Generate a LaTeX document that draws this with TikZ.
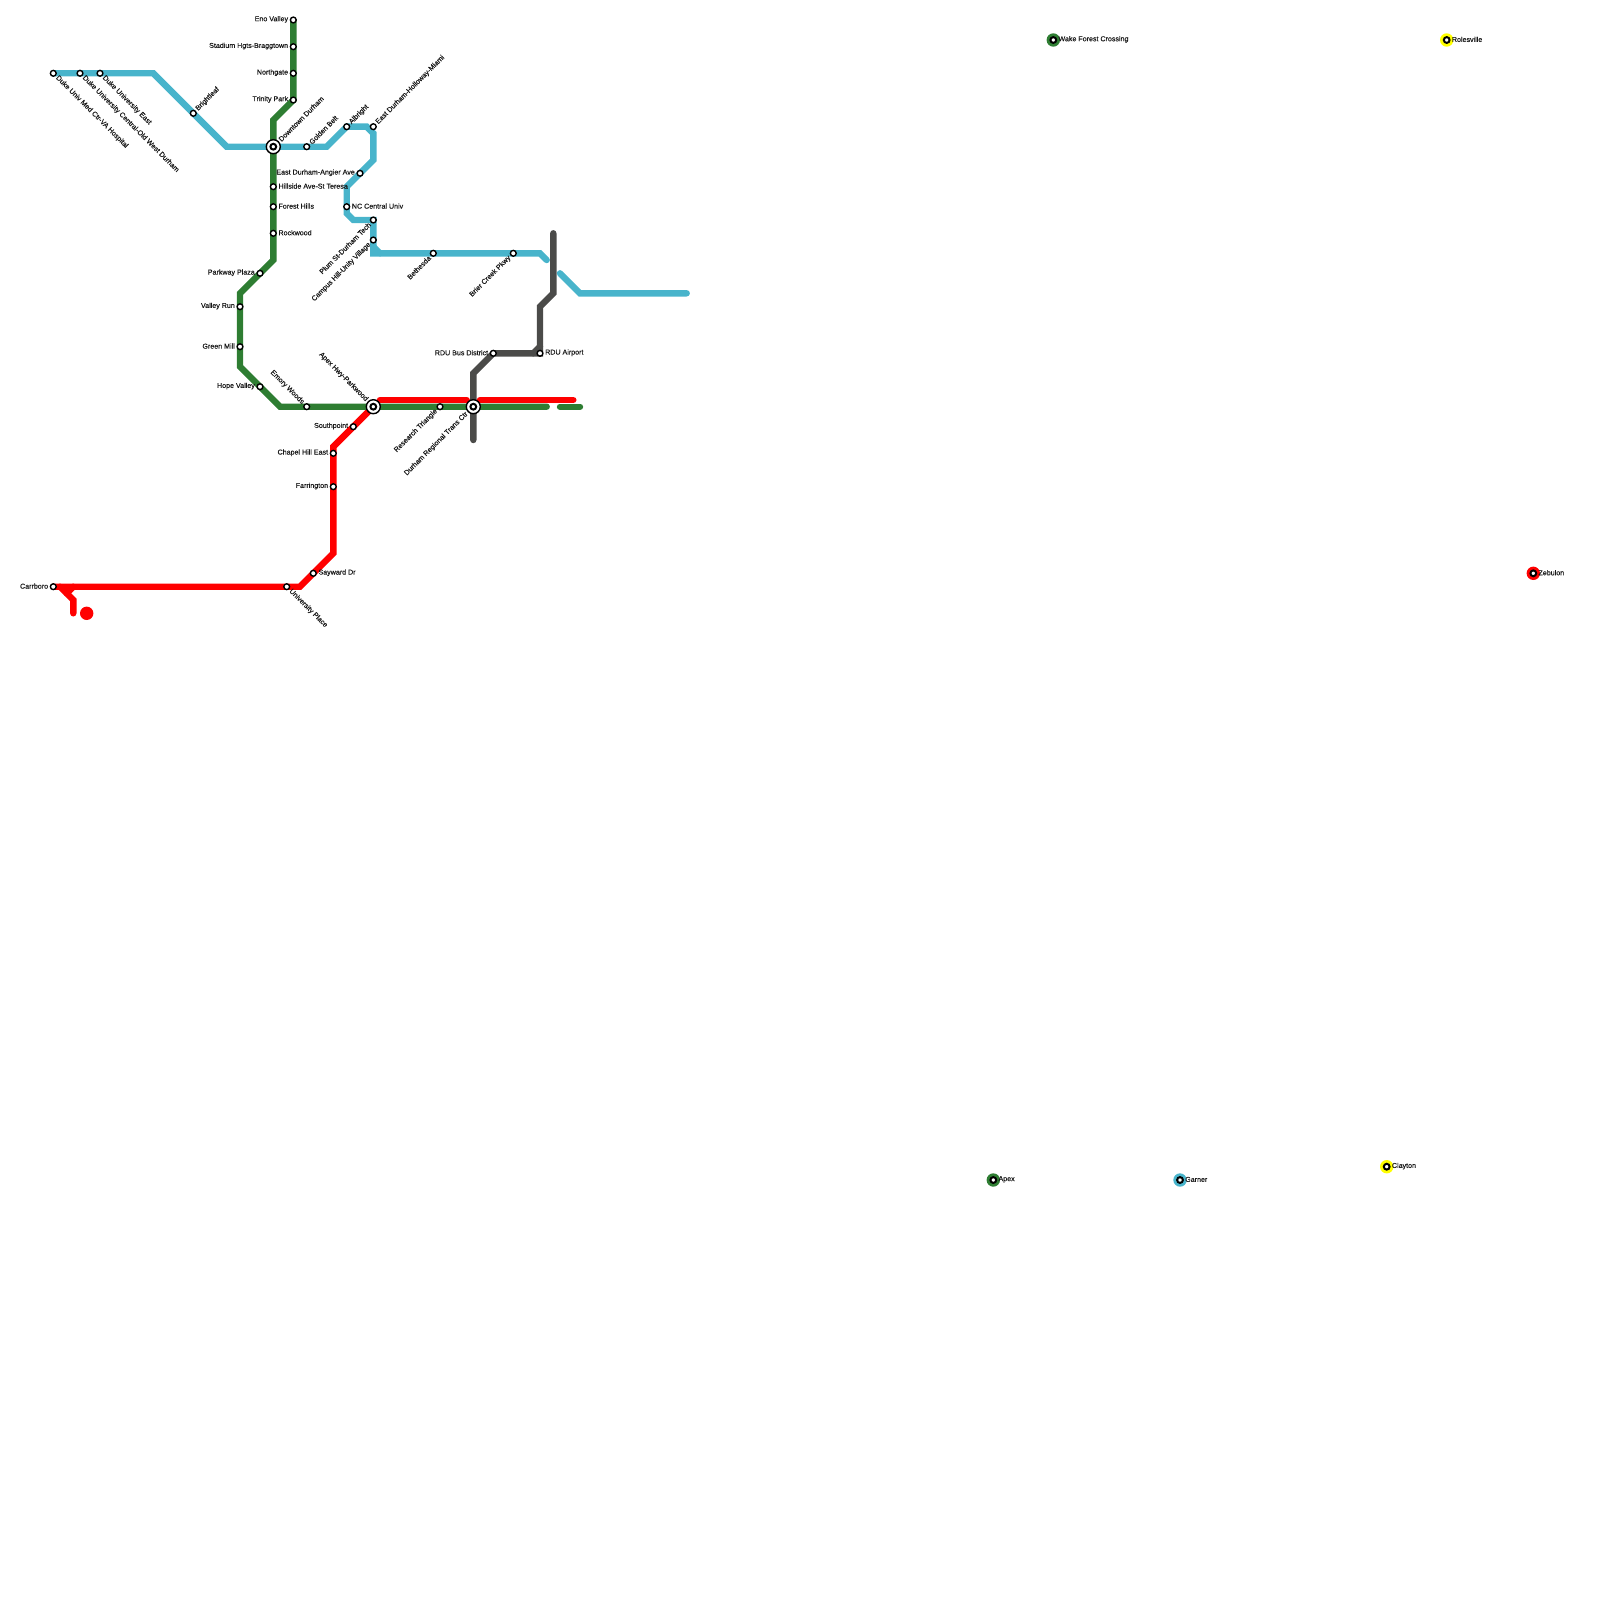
\documentclass[tikz,border=0pt]{standalone}
\usepackage{fontspec}
\newfontfamily\lblfont[FakeBold=0.35]{Liberation Sans}
\definecolor{wood}{HTML}{2E7D32}
\definecolor{creek}{HTML}{48B4CB}
\definecolor{signal}{HTML}{FF0000}
\definecolor{slate}{HTML}{4B4B49}
\definecolor{sun}{HTML}{FFFF00}
\tikzset{stn/.style={circle,draw=black,fill=white,line width=1.4pt,minimum size=5.8pt,inner sep=0pt},
ring/.style={circle,draw=black,fill=white,line width=1.4pt,minimum size=14pt,inner sep=0pt},
lone/.style={circle,minimum size=13.4pt,inner sep=0pt},
core/.style={circle,draw=black,fill=white,line width=2pt,minimum size=5.8pt,inner sep=0pt},
lbl/.style={font=\lblfont\fontsize{7.1}{8}\selectfont,inner sep=0pt,text=black!90},
lblr/.style={lbl,anchor=west,xshift=5pt,yshift=0.6pt},
lbll/.style={lbl,anchor=east,xshift=-5pt,yshift=0.6pt},
lblne/.style={lbl,rotate=45,anchor=west,xshift=5pt},
lblse/.style={lbl,rotate=-45,anchor=west,xshift=5pt},
lblsw/.style={lbl,rotate=45,anchor=east,xshift=-5pt},
lblnw/.style={lbl,rotate=-45,anchor=east,xshift=-5pt},
track/.style={line width=6.4pt,line cap=round,line join=miter}}

\begin{document}
\begin{tikzpicture}[x=1pt,y=-1pt]
\useasboundingbox (0,0) rectangle (1600,1600);
% bends
\coordinate (g1) at (273.3,120);\coordinate (g2) at (273.3,260);\coordinate (g3) at (240,293.3);\coordinate (g4) at (240,366.7);\coordinate (g5) at (280,406.7);
\coordinate (g6) at (546.7,406.7);\coordinate (g7) at (560,406.7);\coordinate (g8) at (580,406.7);
\coordinate (b1) at (153.3,73.3);\coordinate (b2) at (226.7,146.7);\coordinate (b3) at (326.7,146.7);\coordinate (b4) at (366.7,126.7);\coordinate (b5) at (373.3,133.3);
\coordinate (b6) at (373.3,160);\coordinate (b7) at (346.7,186.7);\coordinate (b8) at (346.7,213.3);\coordinate (b9) at (353.3,220);
\coordinate (b10) at (373.3,253.3);\coordinate (b11) at (373.3,246.7);\coordinate (b12) at (380,253.3);\coordinate (b13) at (540,253.3);\coordinate (b14) at (546.7,260);
\coordinate (b15) at (560,273.3);\coordinate (b16) at (580,293.3);\coordinate (b17) at (686.7,293.3);
\coordinate (r1) at (333.3,446.7);\coordinate (r2) at (333.3,553.3);\coordinate (r3) at (300,586.7);\coordinate (r4) at (60,586.7);\coordinate (r5) at (73.3,600);\coordinate (r6) at (73.3,613.3);
\coordinate (r7) at (73.3,586.7);\coordinate (r8) at (66.7,593.3);\coordinate (r9) at (380,400);\coordinate (r10) at (466.7,400);\coordinate (r11) at (480,400);\coordinate (r12) at (573.3,400);
\coordinate (k1) at (553.3,233.3);\coordinate (k2) at (553.3,293.3);\coordinate (k3) at (540,306.7);\coordinate (k4) at (540,346.7);\coordinate (k5) at (533.3,353.3);\coordinate (k6) at (473.3,373.3);\coordinate (k7) at (473.3,440);
% stations on the lines
\node (eno) at (293.3,20) {};\node (stadium) at (293.3,46.7) {};\node (northgate) at (293.3,73.3) {};\node (trinity) at (293.3,100) {};
\node (downtown) at (273.3,146.7) {};\node (hillside) at (273.3,186.7) {};\node (forest) at (273.3,206.7) {};\node (rockwood) at (273.3,233.3) {};
\node (parkway) at (260,273.3) {};\node (valley) at (240,306.7) {};\node (green) at (240,346.7) {};\node (hope) at (260,386.7) {};\node (emory) at (306.7,406.7) {};
\node (apexhwy) at (373.3,406.7) {};\node (triangle) at (440,406.7) {};\node (durham) at (473.3,406.7) {};
\node (medctr) at (53.3,73.3) {};\node (central) at (80,73.3) {};\node (dukeeast) at (100,73.3) {};\node (brightleaf) at (193.3,113.3) {};\node (golden) at (306.7,146.7) {};
\node (albright) at (346.7,126.7) {};\node (holloway) at (373.3,126.7) {};\node (angier) at (360,173.3) {};\node (nccu) at (346.7,206.7) {};\node (plum) at (373.3,220) {};\node (campus) at (373.3,240) {};
\node (bethesda) at (433.3,253.3) {};\node (brier) at (513.3,253.3) {};
\node (southpoint) at (353.3,426.7) {};\node (chapel) at (333.3,453.3) {};\node (farrington) at (333.3,486.7) {};\node (sayward) at (313.3,573.3) {};\node (univ) at (286.7,586.7) {};\node (carrboro) at (53.3,586.7) {};
\node (rdubus) at (493.3,353.3) {};\node (rdu) at (540,353.3) {};
% lines
\draw[track,draw=creek] (medctr.center)--(b1)--(b2)--(b3)--(albright.center)--(b4)--(b5)--(b6)--(b7)--(b8)--(b9)--(plum.center)--(b10)--(b13)--(b14);
\draw[track,draw=creek] (b11)--(b12);\draw[track,draw=creek] (b15)--(b16)--(b17);
\draw[track,draw=slate] (k1)--(k2)--(k3)--(rdu.center)--(rdubus.center)--(k6)--(k7);\draw[track,draw=slate] (k4)--(k5);
\draw[track,draw=signal] (r9)--(r10);\draw[track,draw=signal] (r11)--(r12);
\draw[track,draw=signal] (apexhwy.center)--(r1)--(r2)--(r3)--(carrboro.center);\draw[track,draw=signal] (r4)--(r5)--(r6);\draw[track,draw=signal] (r7)--(r8);
\draw[track,draw=wood] (eno.center)--(trinity.center)--(g1)--(g2)--(g3)--(g4)--(g5)--(g6);\draw[track,draw=wood] (g7)--(g8);
\node[circle,fill=signal,minimum size=13.4pt,inner sep=0pt] (dot) at (86.7,613.3) {};
% station marks and names
\node[stn] at (eno) {};\node[lbll] (enol) at (eno) {Eno Valley};
\node[stn] at (stadium) {};\node[lbll] (stadiuml) at (stadium) {Stadium Hgts-Braggtown};
\node[stn] at (northgate) {};\node[lbll] (northgatel) at (northgate) {Northgate};
\node[stn] at (trinity) {};\node[lbll] (trinityl) at (trinity) {Trinity Park};
\node[ring] at (downtown) {};\node[core] at (downtown) {};\node[lblne,xshift=4pt] (downtownl) at (downtown) {Downtown Durham};
\node[stn] at (hillside) {};\node[lblr] (hillsidel) at (hillside) {Hillside Ave-St Teresa};
\node[stn] at (forest) {};\node[lblr] (forestl) at (forest) {Forest Hills};
\node[stn] at (rockwood) {};\node[lblr] (rockwoodl) at (rockwood) {Rockwood};
\node[stn] at (parkway) {};\node[lbll] (parkwayl) at (parkway) {Parkway Plaza};
\node[stn] at (valley) {};\node[lbll] (valleyl) at (valley) {Valley Run};
\node[stn] at (green) {};\node[lbll] (greenl) at (green) {Green Mill};
\node[stn] at (hope) {};\node[lbll] (hopel) at (hope) {Hope Valley};
\node[stn] at (emory) {};\node[lblnw] (emoryl) at (emory) {Emory Woods};
\node[ring] at (apexhwy) {};\node[core] at (apexhwy) {};\node[lblnw,xshift=-4pt] (apexhwyl) at (apexhwy) {Apex Hwy-Parkwood};
\node[stn] at (triangle) {};\node[lblsw] (trianglel) at (triangle) {Research Triangle};
\node[ring] at (durham) {};\node[core] at (durham) {};\node[lblsw,xshift=-4pt] (durhaml) at (durham) {Durham Regional Trans Ctr};
\node[stn] at (medctr) {};\node[lblse] (medctrl) at (medctr) {Duke Univ Med Ctr-VA Hospital};
\node[stn] at (central) {};\node[lblse] (centrall) at (central) {Duke University Central-Old West Durham};
\node[stn] at (dukeeast) {};\node[lblse] (dukeeastl) at (dukeeast) {Duke University East};
\node[stn] at (brightleaf) {};\node[lblne] (brightleafl) at (brightleaf) {Brightleaf};
\node[stn] at (golden) {};\node[lblne] (goldenl) at (golden) {Golden Belt};
\node[stn] at (albright) {};\node[lblne] (albrightl) at (albright) {Albright};
\node[stn] at (holloway) {};\node[lblne] (hollowayl) at (holloway) {East Durham-Holloway-Miami};
\node[stn] at (angier) {};\node[lbll] (angierl) at (angier) {East Durham-Angier Ave};
\node[stn] at (nccu) {};\node[lblr] (nccul) at (nccu) {NC Central Univ};
\node[stn] at (plum) {};\node[lblsw] (pluml) at (plum) {Plum St-Durham Tech};
\node[stn] at (campus) {};\node[lblsw] (campusl) at (campus) {Campus Hill-Unity Village};
\node[stn] at (bethesda) {};\node[lblsw] (bethesdal) at (bethesda) {Bethesda};
\node[stn] at (brier) {};\node[lblsw] (brierl) at (brier) {Brier Creek Pkwy};
\node[stn] at (southpoint) {};\node[lbll] (southpointl) at (southpoint) {Southpoint};
\node[stn] at (chapel) {};\node[lbll] (chapell) at (chapel) {Chapel Hill East};
\node[stn] at (farrington) {};\node[lbll] (farringtonl) at (farrington) {Farrington};
\node[stn] at (sayward) {};\node[lblr] (saywardl) at (sayward) {Sayward Dr};
\node[stn] at (univ) {};\node[lblse] (univl) at (univ) {University Place};
\node[stn] at (carrboro) {};\node[lbll] (carrborol) at (carrboro) {Carrboro};
\node[stn] at (rdubus) {};\node[lbll] (rdubusl) at (rdubus) {RDU Bus District};
\node[stn] at (rdu) {};\node[lblr] (rdul) at (rdu) {RDU Airport};
% stations with no line
\node[lone,fill=wood] (wake) at (1053.3,40) {};\node[core] at (wake) {};\node[lblr] (wakel) at (wake) {Wake Forest Crossing};
\node[lone,fill=sun] (roles) at (1446.7,40) {};\node[core] at (roles) {};\node[lblr] (rolesl) at (roles) {Rolesville};
\node[lone,fill=signal] (zebulon) at (1533.3,573.3) {};\node[core] at (zebulon) {};\node[lblr] (zebulonl) at (zebulon) {Zebulon};
\node[lone,fill=wood] (apex) at (993.3,1180) {};\node[core] at (apex) {};\node[lblr] (apexl) at (apex) {Apex};
\node[lone,fill=creek] (garner) at (1180,1180) {};\node[core] at (garner) {};\node[lblr] (garnerl) at (garner) {Garner};
\node[lone,fill=sun] (clayton) at (1386.7,1166.7) {};\node[core] at (clayton) {};\node[lblr] (claytonl) at (clayton) {Clayton};
\end{tikzpicture}
\end{document}
